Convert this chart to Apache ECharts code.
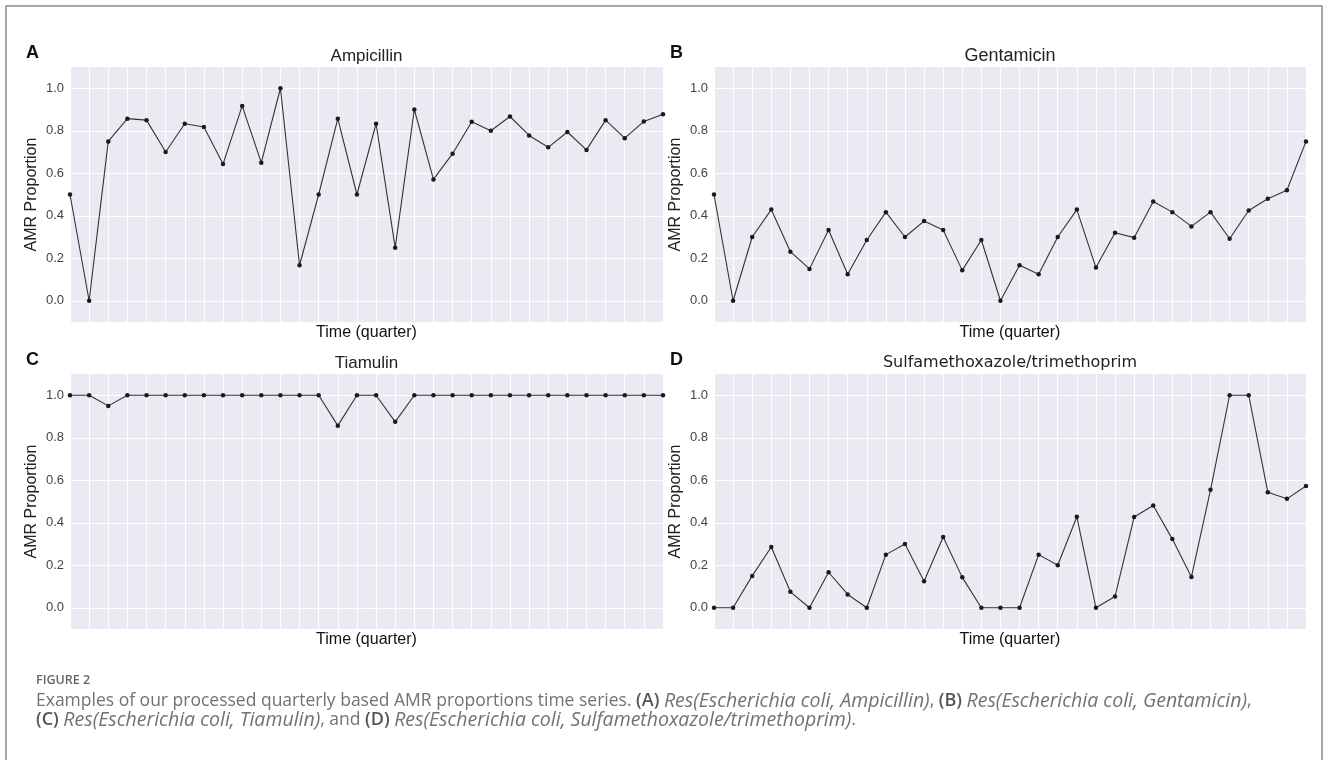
<!DOCTYPE html>
<html>
<head>
<meta charset="utf-8">
<script src="https://cdn.jsdelivr.net/npm/echarts@6/dist/echarts.min.js"></script>
<style>
html,body{margin:0;padding:0;background:#fff;}
#c{width:1328px;height:760px;}
</style>
</head>
<body>
<div id="c"></div>
<script>
// ---- data ----
const quarters = Array.from({length: 32}, (_, i) => String(i + 1));
const yTicks = [0.0, 0.2, 0.4, 0.6, 0.8, 1.0];
const panelTitles = ['Ampicillin', 'Gentamicin', 'Tiamulin', 'Sulfamethoxazole/trimethoprim'];
const panelLetters = ['A', 'B', 'C', 'D'];
const ampicillin = [0.5, 0.0, 0.75, 0.857, 0.85, 0.7, 0.833, 0.818, 0.643, 0.917, 0.65, 1.0, 0.167, 0.5, 0.857, 0.5,
  0.833, 0.25, 0.9, 0.571, 0.692, 0.842, 0.8, 0.867, 0.778, 0.722, 0.794, 0.71, 0.85, 0.765, 0.844, 0.878];
const gentamicin = [0.5, 0.0, 0.3, 0.429, 0.231, 0.15, 0.333, 0.125, 0.286, 0.417, 0.3, 0.375, 0.333, 0.143, 0.286, 0.0,
  0.167, 0.125, 0.3, 0.429, 0.156, 0.32, 0.297, 0.467, 0.417, 0.35, 0.417, 0.292, 0.425, 0.48, 0.52, 0.75];
const tiamulin = [1.0, 1.0, 0.95, 1.0, 1.0, 1.0, 1.0, 1.0, 1.0, 1.0, 1.0, 1.0, 1.0, 1.0, 0.857, 1.0,
  1.0, 0.875, 1.0, 1.0, 1.0, 1.0, 1.0, 1.0, 1.0, 1.0, 1.0, 1.0, 1.0, 1.0, 1.0, 1.0];
const sulfaTrim = [0.0, 0.0, 0.15, 0.286, 0.075, 0.0, 0.167, 0.0625, 0.0, 0.25, 0.3, 0.125, 0.333, 0.143, 0.0, 0.0,
  0.0, 0.25, 0.2, 0.428, 0.0, 0.053, 0.427, 0.481, 0.323, 0.145, 0.555, 1.0, 1.0, 0.544, 0.5125, 0.573];
const seriesData = [ampicillin, gentamicin, tiamulin, sulfaTrim];

// ---- layout ----
const grids = [
  {left: 70, top: 67, width: 593, height: 255},
  {left: 714, top: 67, width: 592, height: 255},
  {left: 70, top: 374, width: 593, height: 255},
  {left: 714, top: 374, width: 592, height: 255}
];
const titleFonts = [
  {fontFamily: 'Liberation Sans', fontSize: 17},
  {fontFamily: 'Liberation Sans', fontSize: 18},
  {fontFamily: 'Liberation Sans', fontSize: 17},
  {fontFamily: 'DejaVu Sans', fontSize: 16}
];

const chart = echarts.init(document.getElementById('c'), null, {renderer: 'canvas'});

const xAxes = [], yAxes = [], series = [], graphics = [];
grids.forEach((g, i) => {
  xAxes.push({
    gridIndex: i, type: 'category', data: quarters, boundaryGap: false,
    axisLine: {show: false}, axisTick: {show: false, interval: 0},
    axisLabel: {show: false, interval: 0},
    splitLine: {show: true, interval: 0, lineStyle: {color: '#ffffff', width: 1}},
    name: 'Time (quarter)', nameLocation: 'middle', nameGap: 3,
    nameTextStyle: {fontFamily: 'Liberation Sans', fontSize: 16, color: '#111', verticalAlign: 'top'}
  });
  yAxes.push({
    gridIndex: i, type: 'value', min: -0.1, max: 1.1,
    axisLine: {show: false},
    axisTick: {show: false, customValues: yTicks},
    axisLabel: {customValues: yTicks, margin: 6, fontFamily: 'Liberation Sans', fontSize: 13, color: '#444',
      formatter: v => v.toFixed(1)},
    splitLine: {show: true, lineStyle: {color: '#ffffff', width: 1}},
    name: 'AMR Proportion', nameLocation: 'middle', nameGap: 30,
    nameTextStyle: {fontFamily: 'Liberation Sans', fontSize: 16, color: '#222'}
  });
  series.push({
    type: 'line', xAxisIndex: i, yAxisIndex: i, data: seriesData[i],
    symbol: 'circle', symbolSize: 4.5, showSymbol: true,
    lineStyle: {color: '#333333', width: 1.1},
    itemStyle: {color: '#1a1a1a'},
    animation: false, silent: true
  });
  graphics.push({
    type: 'text', x: g.left + g.width / 2, y: g.top - 11,
    style: Object.assign({text: panelTitles[i], fill: '#222', textAlign: 'center', textVerticalAlign: 'middle'}, titleFonts[i])
  });
  graphics.push({
    type: 'text', x: g.left - 44, y: g.top - 14,
    style: {text: panelLetters[i], fill: '#111', fontFamily: 'Liberation Sans', fontWeight: 'bold', fontSize: 18,
      textAlign: 'left', textVerticalAlign: 'middle'}
  });
});

// border around figure
graphics.push({
  type: 'rect', shape: {x: 6, y: 6, width: 1316, height: 800},
  style: {fill: 'none', stroke: '#8c8c8c', lineWidth: 1.5}, z: -1
});
// caption
graphics.push({
  type: 'text', x: 36, y: 680,
  style: {text: 'FIGURE 2', fill: '#666', fontFamily: 'Open Sans', fontWeight: 600, fontSize: 12.5,
    textAlign: 'left', textVerticalAlign: 'middle'}
});
const capStyle = {
  r: {fontFamily: 'Open Sans', fontSize: 17.5, fill: '#727272'},
  b: {fontFamily: 'Open Sans', fontSize: 18, fill: '#555555', fontWeight: 600},
  i: {fontFamily: 'Open Sans', fontSize: 19.5, fill: '#727272', fontStyle: 'italic'}
};
graphics.push({
  type: 'text', x: 36, y: 701,
  style: {
    text: '{r|Examples of our processed quarterly based AMR proportions time series. }{b|(A)}{r| }{i|Res(Escherichia coli, Ampicillin)}{r|, }{b|(B)}{r| }{i|Res(Escherichia coli, Gentamicin)}{r|,}',
    rich: capStyle, textAlign: 'left', textVerticalAlign: 'middle'
  }
});
graphics.push({
  type: 'text', x: 36, y: 720,
  style: {
    text: '{b|(C)}{r| }{i|Res(Escherichia coli, Tiamulin)}{r|, and }{b|(D)}{r| }{i|Res(Escherichia coli, Sulfamethoxazole/trimethoprim)}{r|.}',
    rich: capStyle, textAlign: 'left', textVerticalAlign: 'middle'
  }
});

chart.setOption({
  backgroundColor: '#ffffff',
  animation: false,
  grid: grids.map(g => Object.assign({show: true, backgroundColor: '#EAEAF2', borderWidth: 0, containLabel: false}, g)),
  xAxis: xAxes,
  yAxis: yAxes,
  series: series,
  graphic: graphics
});
</script>
</body>
</html>
